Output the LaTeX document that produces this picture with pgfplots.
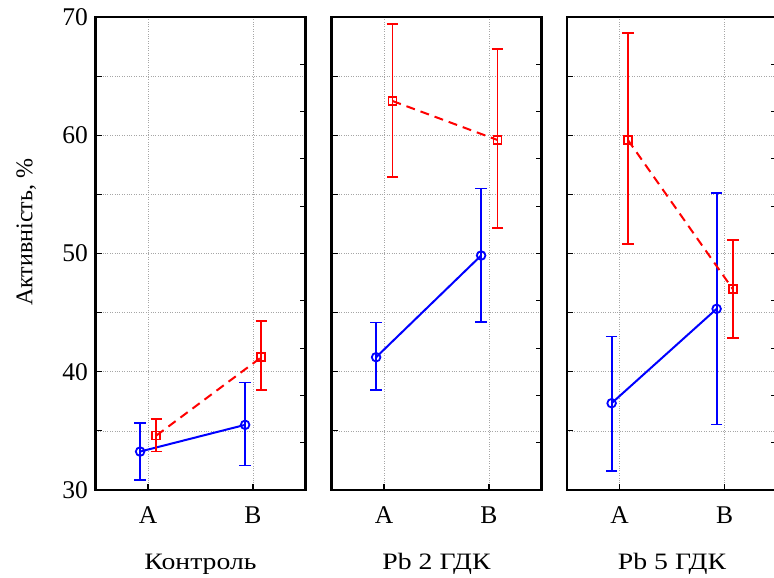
\documentclass[border=0pt]{standalone}
\usepackage{fontspec}
\setmainfont{Liberation Serif}
\usepackage{pgfplots}
\pgfplotsset{compat=1.18}
\usepackage{pgfplotstable}

\newcommand\fsz{\fontsize{25.5}{30}\selectfont}
\newcommand\lsz{\fontsize{23.5}{28}\selectfont}

% x: A=0, B=1, shifted a little per series; ep/em = upper/lower whisker
\pgfplotstableread{
x y ep em
-0.075 33.25 2.43 2.41
0.925 35.51 3.58 3.44
}\ctlblue
\pgfplotstableread{
x y ep em
0.08 34.61 1.41 1.36
1.08 41.23 3.07 2.79
}\ctlred
\pgfplotstableread{
x y ep em
-0.075 41.23 2.93 2.76
0.925 49.83 5.66 5.59
}\pbtwoblue
\pgfplotstableread{
x y ep em
0.08 62.90 6.51 6.42
1.08 59.60 7.70 7.44
}\pbtwored
\pgfplotstableread{
x y ep em
-0.075 37.34 5.64 5.72
0.925 45.32 9.80 9.78
}\pbfiveblue
\pgfplotstableread{
x y ep em
0.08 59.60 9.05 8.81
1.08 46.98 4.17 4.14
}\pbfivered

\pgfplotsset{
  frame/.style={
    scale only axis, width=210pt, height=473pt, anchor=north west,
    xmin=-0.5, xmax=1.5, ymin=30, ymax=70,
    tick align=inside, major tick length=6pt, minor tick length=6pt,
    tick style={black, line width=1.1pt},
    axis line style={line width=2.2pt},
  },
  panel/.style={
    frame,
    xtick={0,1}, xticklabels={A,B},
    ytick={30,40,...,70}, minor ytick={35,45,55,65},
    grid=both,
    major grid style={dotted, gray!70, line width=0.7pt},
    minor grid style={dotted, gray!70, line width=0.7pt},
    xtick pos=bottom, ytick pos=left,
    every tick label/.append style={font=\fsz},
    xticklabel style={anchor=base, yshift=-33pt},
    yticklabel style={xshift=-4pt},
    /pgf/number format/assume math mode=true,
    every axis x label/.style={at={(axis description cs:0.5,0)}, anchor=base, yshift=-79pt, font=\lsz, xscale=1.18},
  },
  righttk/.style={
    frame, hide x axis, axis y line*=right,
    ytick={34,38,...,66}, yticklabels={},
  },
  bl/.style={draw=blue, color=blue, line width=2pt, mark=o, mark size=4.3pt,
    mark options={fill=white, solid, line width=1.8pt},
    error bars/.cd, y dir=both, y explicit,
    error bar style={line width=1.8pt, solid},
    error mark options={rotate=90, mark size=5.8pt, line width=1.8pt, solid}},
  rd/.style={draw=red, color=red, line width=2pt, dash pattern=on 9pt off 6pt, mark=square, mark size=4pt,
    mark options={fill=white, solid, line width=1.8pt},
    error bars/.cd, y dir=both, y explicit,
    error bar style={line width=1.8pt, solid},
    error mark options={rotate=90, mark size=5.8pt, line width=1.8pt, solid}},
}

\begin{document}
\begin{tikzpicture}
% Контроль
\begin{axis}[panel, at={(95.5pt,-17pt)}, xlabel={Контроль},
  every axis y label/.style={at={(axis description cs:-0.3,0.545)}, rotate=90, anchor=base, font=\fontsize{24}{28}\selectfont},
  ylabel={Активність, \%}]
\addplot[bl] table[x=x, y=y, y error plus=ep, y error minus=em] {\ctlblue};
\addplot[rd] table[x=x, y=y, y error plus=ep, y error minus=em] {\ctlred};
\end{axis}
\begin{axis}[righttk, at={(95.5pt,-17pt)}]
\end{axis}

% Pb 2 ГДК
\begin{axis}[panel, at={(331.5pt,-17pt)}, xlabel={Pb 2 ГДК}, yticklabels={}]
\addplot[bl] table[x=x, y=y, y error plus=ep, y error minus=em] {\pbtwoblue};
\addplot[rd] table[x=x, y=y, y error plus=ep, y error minus=em] {\pbtwored};
\end{axis}
\begin{axis}[righttk, at={(331.5pt,-17pt)}]
\end{axis}

% Pb 5 ГДК
\begin{axis}[panel, at={(567pt,-17pt)}, xlabel={Pb 5 ГДК}, yticklabels={}]
\addplot[bl] table[x=x, y=y, y error plus=ep, y error minus=em] {\pbfiveblue};
\addplot[rd] table[x=x, y=y, y error plus=ep, y error minus=em] {\pbfivered};
\end{axis}
\begin{axis}[righttk, at={(567pt,-17pt)}]
\end{axis}

\pgfresetboundingbox
\path[use as bounding box] (0,0) rectangle (774pt,-578pt);
\end{tikzpicture}
\end{document}
